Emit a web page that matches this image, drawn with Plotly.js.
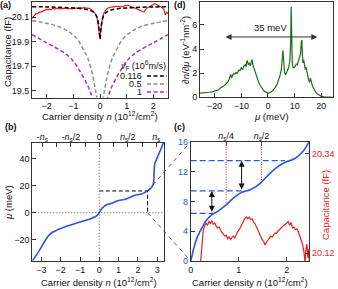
<!DOCTYPE html>
<html><head><meta charset="utf-8">
<script src="https://cdn.plot.ly/plotly-3.0.1.min.js"></script>
<style>html,body{margin:0;padding:0;background:#fff;}#chart{width:338px;height:289px;}</style>
</head><body><div id="chart"></div>
<script>
// ---------- Panel (a): capacitance vs carrier density ----------
const nA = [-2.55,-2.0,-1.5,-1.2,-1.0,-0.8,-0.6,-0.45,-0.35,-0.25,-0.19,-0.12,-0.08,-0.05,-0.025,0,0.025,0.05,0.08,0.12,0.19,0.25,0.35,0.45,0.6,0.8,1.0,1.2,1.5,2.0,2.55];
const capVf0116 = [20.186,20.184,20.181,20.178,20.176,20.173,20.167,20.161,20.154,20.142,20.13,20.105,20.075,20.035,19.98,19.92,19.98,20.035,20.075,20.105,20.13,20.142,20.154,20.161,20.167,20.173,20.176,20.178,20.181,20.184,20.186];
const capVf05 = [20.072,20.05,20.02,19.985,19.955,19.905,19.825,19.76,19.69,19.6,19.527,19.44,19.33,19.2,19.0,18.8,19.0,19.2,19.33,19.44,19.527,19.6,19.69,19.76,19.825,19.905,19.955,19.985,20.02,20.05,20.072];
const capVf1 = [19.958,19.89,19.83,19.785,19.74,19.675,19.6,19.535,19.48,19.41,19.33,19.2,19.05,18.9,18.7,18.5,18.7,18.9,19.05,19.2,19.33,19.41,19.48,19.535,19.6,19.675,19.74,19.785,19.83,19.89,19.958];
const legendVf = ['0.116','0.5','1'];
const nMeasA = [-2.55,-2.5,-2.45,-2.4,-2.35,-2.3,-2.25,-2.2,-2.15,-2.1,-2.05,-2.0,-1.95,-1.9,-1.85,-1.8,-1.75,-1.7,-1.65,-1.6,-1.55,-1.5,-1.45,-1.4,-1.35,-1.3,-1.25,-1.2,-1.15,-1.1,-1.05,-1.0,-0.95,-0.9,-0.85,-0.8,-0.75,-0.7,-0.65,-0.6,-0.55,-0.5,-0.45,-0.4,-0.35,-0.3,-0.25,-0.2,-0.15,-0.1,-0.06,-0.03,0,0.03,0.06,0.1,0.15,0.2,0.25,0.3,0.35,0.4,0.45,0.5,0.55,0.6,0.65,0.7,0.75,0.8,0.85,0.9,0.95,1.0,1.05,1.1,1.15,1.2,1.25,1.3,1.35,1.4,1.45,1.5,1.55,1.6,1.65,1.7,1.75,1.8,1.85,1.9,1.95,2.0,2.05,2.1,2.15,2.2,2.25,2.3,2.35,2.4,2.45,2.5,2.55];
const capMeasA = [20.092,20.105,20.118,20.13,20.128,20.14,20.146,20.142,20.152,20.156,20.158,20.165,20.16,20.166,20.162,20.168,20.172,20.167,20.17,20.174,20.169,20.172,20.168,20.173,20.171,20.175,20.17,20.172,20.168,20.171,20.169,20.174,20.17,20.176,20.172,20.176,20.174,20.178,20.175,20.179,20.176,20.178,20.174,20.172,20.168,20.16,20.15,20.138,20.118,20.085,20.035,19.985,19.93,19.99,20.045,20.1,20.135,20.155,20.168,20.176,20.18,20.184,20.182,20.187,20.184,20.19,20.186,20.19,20.184,20.188,20.184,20.19,20.196,20.194,20.199,20.192,20.186,20.182,20.178,20.176,20.172,20.168,20.164,20.16,20.152,20.145,20.142,20.16,20.176,20.182,20.186,20.192,20.198,20.205,20.21,20.206,20.2,20.196,20.19,20.178,20.175,20.16,20.12,20.14,20.13];

// ---------- Panels (b),(c): chemical potential vs density ----------
const nMu = [-3.47,-3.3,-3.15,-3.0,-2.85,-2.7,-2.55,-2.4,-2.2,-2.0,-1.7,-1.4,-1.0,-0.7,-0.45,-0.25,-0.12,-0.05,0,0.056,0.125,0.23,0.33,0.44,0.575,0.75,0.92,1.06,1.24,1.41,1.58,1.76,1.96,2.17,2.35,2.47,2.6,2.72,2.8,2.83,2.85,2.88,3.0,3.15,3.25,3.35];
const mu = [-35.3,-32.0,-28.8,-25.3,-21.6,-18.3,-15.8,-14.2,-12.8,-11.6,-10.0,-8.7,-6.9,-5.6,-4.4,-3.2,-1.9,-0.8,0,1.5,3.0,4.4,5.5,6.2,6.7,7.6,8.6,9.2,9.55,10.2,11.3,12.4,13.2,13.75,14.8,16.0,17.2,19.0,21.5,26,33,36.5,40.5,45.5,49,52.5];
const ns = 2.95;
const nsTickText = ['-<i>n</i><sub>s</sub>','-<i>n</i><sub>s</sub>/2','0','<i>n</i><sub>s</sub>/2','<i>n</i><sub>s</sub>'];
const zoomBox = {n: 2.5, mu: 16};
const plateauMu = [6.4, 9.4, 13.45];
const plateauN = [0.47, 1.06, 1.96];
const nsFrac = [0.25, 0.5];
const nsFracLabel = ['<i>n</i><sub>s</sub>/4','<i>n</i><sub>s</sub>/2'];
const nsLineEndMu = [7.7, 10.6];
const nMeasC = [0.19,0.23,0.26,0.29,0.32,0.35,0.38,0.41,0.44,0.47,0.5,0.53,0.56,0.59,0.62,0.65,0.68,0.71,0.74,0.77,0.8,0.83,0.86,0.89,0.92,0.95,0.98,1.01,1.04,1.07,1.1,1.13,1.16,1.19,1.22,1.25,1.28,1.31,1.34,1.37,1.4,1.43,1.46,1.49,1.52,1.55,1.58,1.61,1.64,1.67,1.7,1.73,1.76,1.79,1.82,1.85,1.88,1.91,1.94,1.97,2.0,2.03,2.06,2.09,2.12,2.15,2.18,2.21,2.24,2.27,2.3,2.33,2.36,2.38,2.4,2.42,2.44,2.46,2.47];
const capMeasC = [20.08,20.14,20.17,20.18,20.186,20.182,20.19,20.186,20.192,20.184,20.187,20.18,20.176,20.178,20.17,20.166,20.162,20.158,20.16,20.152,20.156,20.15,20.155,20.158,20.154,20.162,20.168,20.172,20.178,20.186,20.19,20.197,20.2,20.196,20.2,20.194,20.196,20.188,20.185,20.178,20.17,20.162,20.155,20.15,20.146,20.138,20.145,20.15,20.154,20.158,20.156,20.162,20.165,20.164,20.17,20.172,20.176,20.178,20.182,20.184,20.188,20.19,20.182,20.188,20.176,20.178,20.172,20.174,20.168,20.16,20.15,20.14,20.122,20.10,20.13,20.14,20.11,20.13,20.10];
const capTicksC = [20.12, 20.34];

// ---------- Panel (d): density of states ----------
const muD = [-25.5,-24,-22,-21,-20,-19.5,-19,-18.5,-18,-17.5,-17,-16.5,-16,-15.5,-15,-14.6,-14.3,-14,-13.7,-13.3,-13,-12.5,-12,-11.5,-11,-10.5,-10,-9.5,-9,-8.5,-8.2,-8,-7.7,-7.4,-7,-6.6,-6.3,-6,-5.7,-5.3,-5,-4.5,-4,-3.5,-3,-2.5,-2,-1.5,-1,-0.5,0,0.5,1,1.5,2,2.5,3,3.5,4,4.5,5,5.3,5.6,5.9,6.2,6.6,7,7.4,7.8,8.2,8.5,8.7,8.9,9.1,9.4,9.8,10.2,10.6,11,11.4,11.8,12.2,12.5,12.7,12.9,13.1,13.4,13.7,14,14.3,14.6,15,15.3,15.6,15.9,16.2,16.6,17,17.5,18,18.5,19,19.5,20,21,22,24.5];
const dos = [0.35,0.36,0.42,0.45,0.5,0.55,0.6,0.62,0.75,0.8,0.9,0.95,1.05,1.15,1.3,1.5,1.75,1.9,1.6,1.75,1.95,1.9,2.05,2.0,2.25,2.2,2.45,2.3,2.6,2.7,2.5,2.95,3.0,2.7,2.85,2.6,3.05,3.15,2.7,2.4,2.2,1.85,1.55,1.25,1.0,0.8,0.65,0.52,0.45,0.38,0.35,0.37,0.42,0.5,0.6,0.72,0.9,1.15,1.45,1.8,2.3,2.9,3.9,3.0,2.1,1.85,2.05,2.2,2.5,3.0,4.5,7.5,5.0,2.9,2.5,2.45,2.55,2.75,2.7,2.95,3.2,3.6,4.6,4.75,3.6,2.85,3.1,2.6,2.3,2.5,2.0,1.7,1.4,1.25,1.6,1.2,1.0,0.8,0.55,0.4,0.3,0.2,0.12,0.07,0.03,0.01,0.0];
const gapArrow = {from: -16.5, to: 18.5, level: 5.0, label: '35 meV'};

// ---------- layout helpers ----------
const W = 338, H = 289;
const PX = x => x / W, PY = y => 1 - y / H;
const domA = {x:[PX(32),PX(168)], y:[PY(97.5),PY(1.7)]};
const domD = {x:[PX(200),PX(333.3)], y:[PY(97.3),PY(1.7)]};
const domB = {x:[PX(32.3),PX(164)], y:[PY(260.7),PY(143)]};
const domC = {x:[PX(190.7),PX(309.3)], y:[PY(261),PY(141.7)]};
const rA = {x:[-2.55,2.55], y:[19.443,20.227]};
const rB = {x:[-3.47,3.35], y:[-35.3,51.3]};
const rC = {x:[0,2.47], y:[0,16], y2:[20.103,20.366]};
const rD = {x:[-25.5,24.5], y:[0,7.92]};

const RED = '#ee1c1c', BLUE = '#2a55e8', GREEN = '#1b6f1b', PURPLE = '#a02ed6', GRAY = '#8f8f8f';
const FONT = 'Arial, "Liberation Sans", sans-serif';
const base = {showline:true, linecolor:'#333', linewidth:1, mirror:true, ticks:'inside', ticklen:4, tickcolor:'#333', tickwidth:1, showgrid:false, zeroline:false, tickfont:{size:9, color:'#111', family:FONT}, fixedrange:true, automargin:false};
const ax = o => Object.assign({}, base, o);

const traces = [
  {x:nMeasA, y:capMeasA, xaxis:'x', yaxis:'y', mode:'lines', line:{color:RED, width:1.2}},
  {x:nA, y:capVf05, xaxis:'x', yaxis:'y', mode:'lines', line:{color:GRAY, width:1.5, dash:'4px,2.5px', shape:'spline'}},
  {x:nA, y:capVf1, xaxis:'x', yaxis:'y', mode:'lines', line:{color:PURPLE, width:1.5, dash:'4px,2.5px', shape:'spline'}},
  {x:nA, y:capVf0116, xaxis:'x', yaxis:'y', mode:'lines', line:{color:'#000', width:1.5, dash:'4px,2.5px', shape:'spline'}},
  // (b)
  {x:[0, zoomBox.n, zoomBox.n], y:[zoomBox.mu, zoomBox.mu, 0], xaxis:'x2', yaxis:'y2', mode:'lines', line:{color:'#000', width:1, dash:'4px,2.5px'}},
  {x:nMu, y:mu, xaxis:'x2', yaxis:'y2', mode:'lines', line:{color:BLUE, width:1.6, shape:'spline'}},
  {x:[0], y:[0], xaxis:'x3', yaxis:'y2', mode:'markers', marker:{opacity:0}, hoverinfo:'skip'},
  // (c)
  {x:plateauN.flatMap((n,i)=>[0,n,null]), y:plateauMu.flatMap(m=>[m,m,null]), xaxis:'x4', yaxis:'y4', mode:'lines', line:{color:BLUE, width:1.2, dash:'6px,3px'}},
  {x:nsFrac.flatMap(f=>[f*ns,f*ns,null]), y:nsLineEndMu.flatMap(m=>[rC.y[1],m,null]), xaxis:'x4', yaxis:'y4', mode:'lines', line:{color:RED, width:1, dash:'1px,1.5px'}},
  {x:nMu, y:mu, xaxis:'x4', yaxis:'y4', mode:'lines', line:{color:BLUE, width:1.6, shape:'spline'}},
  {x:nMeasC, y:capMeasC, xaxis:'x4', yaxis:'y5', mode:'lines', line:{color:RED, width:1.2}},
  {x:[0], y:[0], xaxis:'x5', yaxis:'y4', mode:'markers', marker:{opacity:0}, hoverinfo:'skip'},
  // (d)
  {x:muD, y:dos, xaxis:'x6', yaxis:'y6', mode:'lines', line:{color:GREEN, width:1.2}}
];

// paper coords of data points
const toPaper = (dom, r, x, y) => [dom.x[0] + (x - r.x[0])/(r.x[1]-r.x[0])*(dom.x[1]-dom.x[0]), dom.y[0] + (y - r.y[0])/(r.y[1]-r.y[0])*(dom.y[1]-dom.y[0])];
const bTop = toPaper(domB, rB, zoomBox.n, zoomBox.mu), bBot = toPaper(domB, rB, zoomBox.n, 0);
const cTop = toPaper(domC, rC, 0, rC.y[1]), cBot = toPaper(domC, rC, 0, 0);

const shapes = [
  {type:'line', xref:'x2', yref:'y2 domain', x0:0, x1:0, y0:0, y1:1, line:{color:'#333', width:0.8, dash:'1px,2px'}},
  {type:'line', xref:'x2 domain', yref:'y2', x0:0, x1:1, y0:0, y1:0, line:{color:'#333', width:0.8, dash:'1px,2px'}},
  {type:'line', xref:'paper', yref:'paper', x0:bTop[0], y0:bTop[1], x1:cTop[0], y1:cTop[1], line:{color:'#333', width:0.8, dash:'4px,4px'}},
  {type:'line', xref:'paper', yref:'paper', x0:bBot[0], y0:bBot[1], x1:cBot[0], y1:cBot[1], line:{color:'#333', width:0.8, dash:'4px,4px'}}
];
// legend samples for (a)
const legColors = ['#000', GRAY, PURPLE];
const legY = [76, 84, 92];
legColors.forEach((c,i)=>shapes.push({type:'line', xref:'paper', yref:'paper', x0:PX(147), x1:PX(167), y0:PY(legY[i]), y1:PY(legY[i]), line:{color:c, width:1.5, dash:'4px,2.5px'}}));

const T = (text, x, y, o) => Object.assign({text, x:PX(x), y:PY(y), xref:'paper', yref:'paper', xanchor:'center', yanchor:'middle', showarrow:false, font:{size:9.5, color:'#111', family:FONT}}, o||{});
const annotations = [
  T('<b>(a)</b>', 5, 5, {font:{size:9, color:'#111', family:FONT}}),
  T('<b>(b)</b>', 11, 127, {font:{size:9, color:'#111', family:FONT}}),
  T('<b>(c)</b>', 179, 127, {font:{size:9, color:'#111', family:FONT}}),
  T('<b>(d)</b>', 179.5, 5, {font:{size:9, color:'#111', family:FONT}}),
  T('Carrier density <i>n</i> (10<sup>12</sup>/cm<sup>2</sup>)', 99.5, 116),
  T('Capacitance (fF)', 8, 52, {textangle:-90}),
  T('Carrier density <i>n</i> (10<sup>12</sup>/cm<sup>2</sup>)', 98.5, 282),
  T('<i>μ</i> (meV)', 8, 203, {textangle:-90}),
  T('Carrier density <i>n</i> (10<sup>12</sup>/cm<sup>2</sup>)', 250, 282),
  T('Capacitance (fF)', 325, 205, {textangle:-90, font:{size:9.5, color:RED, family:FONT}}),
  T('<i>μ</i> (meV)', 271, 116.5),
  T('∂<i>n</i>/∂<i>μ</i> (eV<sup>-1</sup>nm<sup>-2</sup>)', 185, 50, {textangle:-90}),
  T('<i>v</i><sub>F</sub> (10<sup>6</sup>m/s)', 168, 66, {xanchor:'right', font:{size:9, color:'#111', family:FONT}}),
  // d arrow
  {x:gapArrow.to, y:gapArrow.level, ax:gapArrow.from, ay:gapArrow.level, xref:'x6', yref:'y6', axref:'x6', ayref:'y6', showarrow:true, arrowhead:2, startarrowhead:2, arrowside:'end+start', arrowsize:1.2, arrowwidth:1, arrowcolor:'#333', text:''},
  {x:(gapArrow.from+gapArrow.to)/2, y:gapArrow.level, xref:'x6', yref:'y6', yshift:9, showarrow:false, text:gapArrow.label, font:{size:9.5, color:'#111', family:FONT}},
  // c arrows between plateaus
  {x:plateauN[0]-0.03, y:plateauMu[1], ax:plateauN[0]-0.03, ay:plateauMu[0], xref:'x4', yref:'y4', axref:'x4', ayref:'y4', showarrow:true, arrowhead:2, startarrowhead:2, arrowside:'end+start', arrowsize:1.2, arrowwidth:1, arrowcolor:'#111', text:''},
  {x:plateauN[1], y:plateauMu[2], ax:plateauN[1], ay:plateauMu[1], xref:'x4', yref:'y4', axref:'x4', ayref:'y4', showarrow:true, arrowhead:2, startarrowhead:2, arrowside:'end+start', arrowsize:1.2, arrowwidth:1, arrowcolor:'#111', text:''}
];
legendVf.forEach((t,i)=>annotations.push(T(t, 144, legY[i], {xanchor:'right', font:{size:9, color:'#111', family:FONT}})));

const layout = {
  width:W, height:H, margin:{l:0,r:0,t:0,b:0,pad:0}, showlegend:false,
  paper_bgcolor:'#fff', plot_bgcolor:'#fff', font:{family:FONT, size:9, color:'#111'},
  xaxis: ax({domain:domA.x, range:rA.x, anchor:'y', tickvals:[-2,-1,0,1,2]}),
  yaxis: ax({domain:domA.y, range:rA.y, anchor:'x', tickvals:[19.5,19.7,19.9,20.1]}),
  xaxis2: ax({domain:domB.x, range:rB.x, anchor:'y2', tickvals:[-3,-2,-1,0,1,2,3]}),
  yaxis2: ax({domain:domB.y, range:rB.y, anchor:'x2', tickvals:[-20,0,20,40]}),
  xaxis3: ax({overlaying:'x2', anchor:'y2', side:'top', range:rB.x, showline:false, tickvals:[-2,-1,0,1,2].map(k=>k*ns/2), ticktext:nsTickText, minor:{tickvals:[-3,-1,1,3].map(k=>k*ns/4), ticks:'inside', ticklen:4, tickcolor:'#333'}}),
  xaxis4: ax({domain:domC.x, range:rC.x, anchor:'y4', tickvals:[0,1,2]}),
  yaxis4: ax({domain:domC.y, range:rC.y, anchor:'x4', tickvals:[0,4,8,12,16], tickfont:{size:9, color:BLUE, family:FONT}, mirror:false}),
  yaxis5: ax({overlaying:'y4', anchor:'x4', side:'right', range:rC.y2, tickvals:capTicksC, tickfont:{size:9, color:RED, family:FONT}, mirror:false}),
  xaxis5: ax({overlaying:'x4', anchor:'y4', side:'top', range:rC.x, showline:false, tickvals:nsFrac.map(f=>f*ns), ticktext:nsFracLabel, tickcolor:RED}),
  xaxis6: ax({domain:domD.x, range:rD.x, anchor:'y6', tickvals:[-20,-10,0,10,20]}),
  yaxis6: ax({domain:domD.y, range:rD.y, anchor:'x6', tickvals:[0,2,4,6]}),
  shapes, annotations
};
Plotly.newPlot('chart', traces, layout, {staticPlot:true, displayModeBar:false});
</script></body></html>
